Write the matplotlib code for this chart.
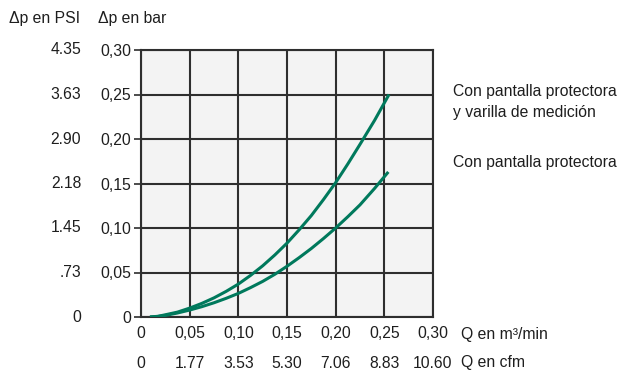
import matplotlib
matplotlib.use("Agg")
import matplotlib.pyplot as plt
from matplotlib.transforms import blended_transform_factory as btf

plt.rcParams['font.family'] = ['Liberation Sans', 'DejaVu Sans']

# Data
q_ticks = [0, 0.05, 0.10, 0.15, 0.20, 0.25, 0.30]
q_labels = ["0", "0,05", "0,10", "0,15", "0,20", "0,25", "0,30"]
cfm_labels = ["0", "1.77", "3.53", "5.30", "7.06", "8.83", "10.60"]
bar_ticks = [0, 0.05, 0.10, 0.15, 0.20, 0.25, 0.30]
bar_labels = ["0", "0,05", "0,10", "0,15", "0,20", "0,25", "0,30"]
psi_labels = ["0", ".73", "1.45", "2.18", "2.90", "3.63", "4.35"]

q_upper = [0.0092, 0.0175, 0.025, 0.0375, 0.05, 0.0625, 0.075, 0.0875, 0.10, 0.1125,
           0.125, 0.1375, 0.15, 0.1625, 0.175, 0.1875, 0.20, 0.2125, 0.225, 0.24, 0.2548]
dp_upper = [0.0, 0.0008, 0.0025, 0.0055, 0.010, 0.0153, 0.0215, 0.0288, 0.037, 0.0467,
            0.0575, 0.0697, 0.083, 0.098, 0.114, 0.132, 0.151, 0.172, 0.194, 0.221, 0.250]
q_lower = [0.0092, 0.0175, 0.025, 0.0375, 0.05, 0.0625, 0.075, 0.0875, 0.10, 0.1125,
           0.125, 0.1375, 0.15, 0.1625, 0.175, 0.1875, 0.20, 0.2125, 0.225, 0.24, 0.2541]
dp_lower = [0.0, 0.0006, 0.0018, 0.0045, 0.0078, 0.0116, 0.016, 0.021, 0.0265, 0.033,
            0.040, 0.048, 0.057, 0.0667, 0.077, 0.0882, 0.100, 0.1127, 0.126, 0.1445, 0.163]

label_upper = "Con pantalla protectora\ny varilla de medición"
label_lower = "Con pantalla protectora"

W, H = 622, 371
fig = plt.figure(figsize=(W/100, H/100), dpi=100)
fig.patch.set_facecolor('white')
ax = fig.add_axes([141/W, 1-317/H, (433-141)/W, (317-50)/H])
ax.set_facecolor('#f3f3f3')
ax.set_xlim(0, 0.30)
ax.set_ylim(0, 0.30)

green = '#00795c'
grid_c = '#2e2e2e'
txt_c = '#1e1e1e'
ax.plot(q_upper, dp_upper, color=green, lw=2.2, solid_capstyle='butt',
        solid_joinstyle='round', zorder=3)
ax.plot(q_lower, dp_lower, color=green, lw=2.2, solid_capstyle='butt',
        solid_joinstyle='round', zorder=3)

for t in q_ticks:
    ax.axvline(t, color=grid_c, lw=1.5, zorder=2)
for t in bar_ticks:
    ax.axhline(t, color=grid_c, lw=1.5, zorder=2)
for s in ax.spines.values():
    s.set_color(grid_c)
    s.set_linewidth(1.5)

fs = 11.3
ax.set_yticks(bar_ticks)
ax.set_yticklabels(bar_labels, fontsize=fs, color=txt_c)
ax.tick_params(axis='y', length=5, width=1.2, color=grid_c, pad=2)
ax.set_xticks([])

tr_y = btf(fig.transFigure, ax.transData)
for v, lab in zip(bar_ticks, psi_labels):
    ax.text(81/W, v, lab, transform=tr_y, ha='right', va='center', fontsize=fs, color=txt_c)

tr_x = btf(ax.transData, fig.transFigure)
for v, a, b in zip(q_ticks, q_labels, cfm_labels):
    ax.text(v, 1-334/H, a, transform=tr_x, ha='center', va='center', fontsize=fs, color=txt_c)
    ax.text(v, 1-363/H, b, transform=tr_x, ha='center', va='center', fontsize=fs, color=txt_c)

fig.text(461/W, 1-334/H, "Q en m³/min", ha='left', va='center', fontsize=fs, color=txt_c)
fig.text(461/W, 1-363/H, "Q en cfm", ha='left', va='center', fontsize=fs, color=txt_c)
fig.text(9/W, 1-19/H, "Δp en PSI", ha='left', va='center', fontsize=fs, color=txt_c)
fig.text(98/W, 1-19/H, "Δp en bar", ha='left', va='center', fontsize=fs, color=txt_c)

fig.text(453/W, 1-102/H, label_upper, ha='left', va='center', fontsize=fs, color=txt_c, linespacing=1.55)
fig.text(453/W, 1-162/H, label_lower, ha='left', va='center', fontsize=fs, color=txt_c)

fig.savefig("out.png", dpi=100)
